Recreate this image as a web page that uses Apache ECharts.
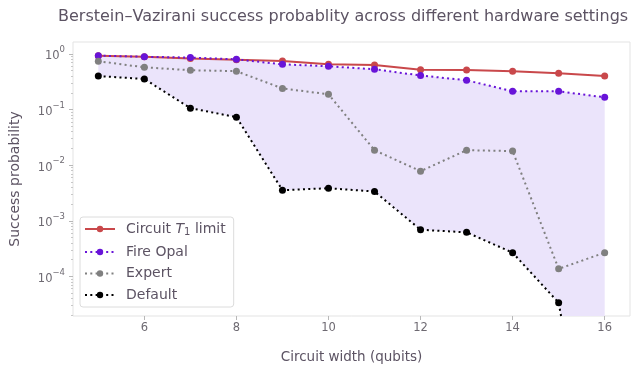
<!DOCTYPE html>
<html>
<head>
<meta charset="utf-8">
<script src="https://cdn.jsdelivr.net/npm/echarts@6/dist/echarts.min.js"></script>
<style>
html,body{margin:0;padding:0;background:#fff;}
#chart{width:637px;height:371px;}
</style>
</head>
<body>
<div id="chart"></div>
<script>
// ---- data ----
const widths = [5, 6, 7, 8, 9, 10, 11, 12, 13, 14, 15, 16];
const t1Limit = [0.93, 0.89, 0.83, 0.79, 0.75, 0.65, 0.63, 0.52, 0.515, 0.49, 0.45, 0.40];
const fireOpal = [0.93, 0.89, 0.86, 0.80, 0.65, 0.60, 0.53, 0.41, 0.336, 0.213, 0.213, 0.166];
const expert = [0.74, 0.575, 0.51, 0.49, 0.24, 0.188, 0.0186, 0.0078, 0.0186, 0.0179, 1.37e-4, 2.67e-4];
// last value is effectively zero (falls below the visible axis)
const defaultVals = [0.40, 0.355, 0.106, 0.073, 0.00355, 0.00385, 0.00336, 6.9e-4, 6.2e-4, 2.67e-4, 3.36e-5, 1e-9];

const xTickValues = [6, 8, 10, 12, 14, 16];
const yTickValues = [1e-4, 1e-3, 1e-2, 1e-1, 1];
const yTickExponents = ['\u22124', '\u22123', '\u22122', '\u22121', '0'];
const seriesNames = ['Circuit T1 limit', 'Fire Opal', 'Expert', 'Default'];

const yMinorTicks = [];
for (let e = -5; e <= 0; e++) {
  for (let k = 2; k <= 9; k++) yMinorTicks.push(k * Math.pow(10, e));
}

const textColor = '#5c5363';
const tickColor = '#6e6a72';
const frameColor = '#e3e3e3';
const yMin = 1.94e-5, yMax = 1.64;

const chart = echarts.init(document.getElementById('chart'), null, {renderer: 'canvas'});

function pair(arr) { return widths.map((w, i) => [w, arr[i]]); }

const dotted = [2, 3.3];

const option = {
  backgroundColor: '#ffffff',
  animation: false,
  title: {
    text: 'Berstein\u2013Vazirani success probablity across different hardware settings',
    left: 53, top: 4,
    textStyle: {fontFamily: 'DejaVu Sans', fontSize: 16, fontWeight: 'normal', color: textColor}
  },
  grid: {left: 72, right: 7, top: 42, bottom: 55, show: true, borderColor: frameColor, borderWidth: 1, backgroundColor: '#fff'},
  legend: {
    left: 80, top: 217, orient: 'vertical',
    data: seriesNames,
    itemWidth: 30, itemHeight: 8, itemGap: 7.5,
    padding: [5, 8, 5, 4],
    borderColor: '#dcdcdc', borderWidth: 1, borderRadius: 3,
    backgroundColor: '#fff',
    formatter: function (name) {
      if (name === 'Circuit T1 limit') return '{b|Circuit }{i|T}{s|1}{b| limit}';
      return '{b|' + name + '}';
    },
    textStyle: {
      fontFamily: 'DejaVu Sans', fontSize: 14, color: textColor,
      rich: {
        b: {fontFamily: 'DejaVu Sans', fontSize: 14, color: textColor, lineHeight: 17, padding: [0, 0, 0, 0]},
        i: {fontFamily: 'DejaVu Sans', fontStyle: 'italic', fontSize: 14, color: textColor, lineHeight: 17},
        s: {fontFamily: 'DejaVu Sans', fontSize: 10, color: textColor, verticalAlign: 'bottom', lineHeight: 12}
      },
      padding: [0, 0, 0, 6]
    }
  },
  xAxis: {
    type: 'value', min: 4.45, max: 16.55,
    name: 'Circuit width (qubits)', nameLocation: 'middle', nameGap: 34,
    nameTextStyle: {fontFamily: 'DejaVu Sans', fontSize: 13.5, color: textColor},
    axisLine: {show: false},
    axisTick: {show: true, customValues: xTickValues, length: 4, lineStyle: {color: '#b8b8b8'}},
    axisLabel: {customValues: xTickValues, fontFamily: 'DejaVu Sans', fontSize: 11.5, color: tickColor, margin: 6},
    splitLine: {show: false}
  },
  yAxis: [{
    type: 'log', min: yMin, max: yMax,
    name: 'Success probability', nameLocation: 'middle', nameGap: 51,
    nameTextStyle: {fontFamily: 'DejaVu Sans', fontSize: 14, color: textColor},
    axisLine: {show: false},
    axisTick: {show: true, customValues: yTickValues, length: 4, lineStyle: {color: '#b8b8b8'}},
    axisLabel: {
      customValues: yTickValues, margin: 8,
      formatter: function (v) {
        const idx = yTickValues.findIndex(t => Math.abs(Math.log10(t) - Math.log10(v)) < 1e-6);
        return idx >= 0 ? '{b|10}{e|' + yTickExponents[idx] + '}' : '';
      },
      rich: {
        b: {fontFamily: 'DejaVu Sans', fontSize: 11.5, color: tickColor, lineHeight: 17, verticalAlign: 'bottom'},
        e: {fontFamily: 'DejaVu Sans', fontSize: 8.5, color: tickColor, lineHeight: 10, verticalAlign: 'top'}
      }
    },
    splitLine: {show: false}
  }, {
    type: 'log', min: yMin, max: yMax, position: 'left',
    axisLine: {show: false},
    axisTick: {show: true, customValues: yMinorTicks, length: 2, lineStyle: {color: '#c8c8c8'}},
    axisLabel: {show: false},
    splitLine: {show: false}
  }],
  series: [
    {
      type: 'custom', name: 'fill', coordinateSystem: 'cartesian2d', clip: true, silent: true, z: 1,
      data: [[widths[0], fireOpal[0]]],
      renderItem: function (params, api) {
        const top = widths.map((w, i) => api.coord([w, fireOpal[i]]));
        const bot = widths.map((w, i) => api.coord([w, defaultVals[i]])).reverse();
        return {type: 'polygon', shape: {points: top.concat(bot)}, style: {fill: '#ebe4fb'}};
      }
    },
    {
      name: 'Circuit T1 limit', type: 'line', data: pair(t1Limit), z: 3,
      symbol: 'circle', symbolSize: 7,
      lineStyle: {color: '#c9484b', width: 2},
      itemStyle: {color: '#c9484b'}
    },
    {
      name: 'Fire Opal', type: 'line', data: pair(fireOpal), z: 4,
      symbol: 'circle', symbolSize: 7,
      lineStyle: {color: '#6814d8', width: 2, type: dotted, cap: 'butt'},
      itemStyle: {color: '#6814d8'}
    },
    {
      name: 'Expert', type: 'line', data: pair(expert), z: 5,
      symbol: 'circle', symbolSize: 7,
      lineStyle: {color: '#808080', width: 2, type: dotted, cap: 'butt'},
      itemStyle: {color: '#808080'}
    },
    {
      name: 'Default', type: 'line', data: pair(defaultVals), z: 6,
      symbol: 'circle', symbolSize: 7,
      lineStyle: {color: '#000000', width: 2, type: dotted, cap: 'butt'},
      itemStyle: {color: '#000000'}
    }
  ]
};
chart.setOption(option);
</script>
</body>
</html>
